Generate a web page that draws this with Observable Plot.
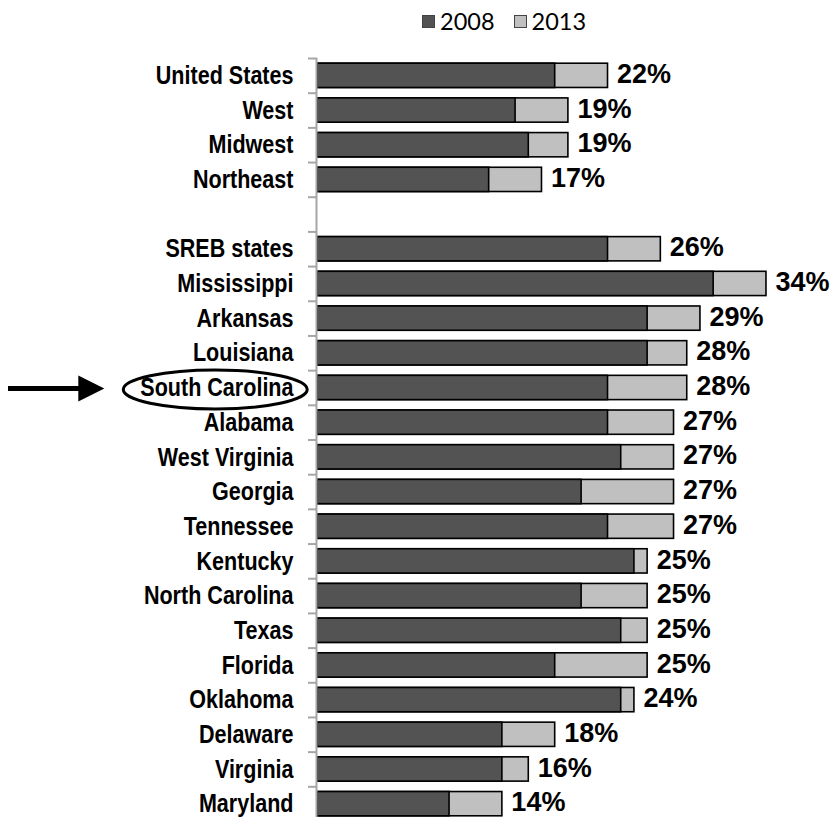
<!DOCTYPE html>
<html><head><meta charset="utf-8">
<script src="https://cdn.jsdelivr.net/npm/d3@7"></script>
<script src="https://cdn.jsdelivr.net/npm/@observablehq/plot@0.6"></script>
<style>
body{margin:0;background:#fff;width:832px;overflow:hidden}
#legend{height:42px;position:relative;font-family:Lato,"Open Sans",sans-serif;font-size:23.5px;color:#000}
#legend .row{position:absolute;left:422px;top:10px;height:22px;display:flex;align-items:center}
#legend .item{display:flex;align-items:center;margin-right:19px}
#legend .sw{width:13px;height:13px;border:1px solid #444;margin-right:5px;box-sizing:border-box}
#chart svg{display:block}
</style></head><body>
<div id="legend"><div class="row"></div></div>
<div id="chart"></div>
<script>
// Data
const regions = ["United States", "West", "Midwest", "Northeast"];
const regions2008 = [18, 15, 16, 13];
const regions2013 = [22, 19, 19, 17];

const states = ["SREB states", "Mississippi", "Arkansas", "Louisiana", "South Carolina", "Alabama",
  "West Virginia", "Georgia", "Tennessee", "Kentucky", "North Carolina", "Texas", "Florida",
  "Oklahoma", "Delaware", "Virginia", "Maryland"];
const states2008 = [22, 30, 25, 25, 22, 22, 23, 20, 22, 24, 20, 23, 18, 23, 14, 14, 10];
const states2013 = [26, 34, 29, 28, 28, 27, 27, 27, 27, 25, 25, 25, 25, 24, 18, 16, 14];

const seriesNames = ["2008", "2013"];
const seriesColors = ["#535353", "#c0c0c0"];
const highlighted = "South Carolina";

const spacer = " ";
const rows = [
  ...regions.map((name, i) => ({name, v2008: regions2008[i], v2013: regions2013[i]})),
  ...states.map((name, i) => ({name, v2008: states2008[i], v2013: states2013[i]}))
];
const domain = [...regions, spacer, ...states];

// Legend
const lrow = document.querySelector("#legend .row");
seriesNames.forEach((s, i) => {
  const it = document.createElement("div");
  it.className = "item";
  const sw = document.createElement("span");
  sw.className = "sw";
  sw.style.background = seriesColors[i];
  it.appendChild(sw);
  it.appendChild(document.createTextNode(s));
  lrow.appendChild(it);
});

const H = 790, MT = 16, MB = 11;
const step = (H - MT - MB) / domain.length;

const chart = Plot.plot({
  width: 832,
  height: H,
  marginTop: MT,
  marginBottom: MB,
  marginLeft: 317,
  marginRight: 0,
  x: {domain: [0, 39], axis: null},
  y: {domain, axis: null, paddingInner: 0.3, paddingOuter: 0.15, round: false},
  style: {background: "white", overflow: "visible"},
  marks: [
    Plot.ruleY(domain, {y: d => d, x1: 0, x2: 0, insetLeft: -9, dy: -step / 2, stroke: "#a6a6a6", strokeWidth: 2}),
    Plot.barX(rows, {x: "v2013", y: "name", fill: seriesColors[1], stroke: "black", strokeWidth: 1.6}),
    Plot.barX(rows, {x: "v2008", y: "name", fill: seriesColors[0], stroke: "black", strokeWidth: 1.6}),
    Plot.ruleX([0], {dx: -1, stroke: "#a6a6a6", strokeWidth: 2}),
    Plot.text(rows, {x: 0, y: "name", text: "name", dx: -24, textAnchor: "end",
      fontFamily: "'Liberation Sans', Arial, sans-serif", fontWeight: "bold", fontSize: 25.5, fill: "black"}),
    Plot.text(rows, {x: "v2013", y: "name", text: d => d.v2013 + "%", dx: 9, dy: -1.5, textAnchor: "start",
      fontFamily: "'Liberation Sans', Arial, sans-serif", fontWeight: "bold", fontSize: 27, fill: "black"})
  ]
});
document.getElementById("chart").appendChild(chart);

// Narrow (condensed) look for the category labels
const catTexts = Array.from(chart.querySelectorAll("text")).filter(t => domain.includes(t.textContent));
catTexts.forEach(t => {
  const w = t.getComputedTextLength();
  t.setAttribute("textLength", (w * 0.845).toFixed(1));
  t.setAttribute("lengthAdjust", "spacingAndGlyphs");
});

// Annotation: ellipse around highlighted label and arrow
const svg = d3.select(chart);
const label = catTexts.find(t => t.textContent === highlighted);
if (label) {
  const sr = chart.getBoundingClientRect();
  const lr = label.getBoundingClientRect();
  const cx = (lr.left + lr.right) / 2 - sr.left - 2;
  const cy = chart.scale("y").apply(highlighted) + chart.scale("y").bandwidth / 2 + 2;
  const rx = (lr.right - lr.left) / 2 + 15, ry = 19.5;
  svg.append("ellipse").attr("cx", cx).attr("cy", cy).attr("rx", rx).attr("ry", ry)
    .attr("fill", "none").attr("stroke", "black").attr("stroke-width", 3);
  const tip = cx - rx - 19, y0 = cy - 1;
  svg.append("line").attr("x1", 8).attr("x2", tip - 22).attr("y1", y0).attr("y2", y0)
    .attr("stroke", "black").attr("stroke-width", 5);
  svg.append("path").attr("d", `M${tip},${y0} L${tip - 26},${y0 - 13} L${tip - 26},${y0 + 13} Z`).attr("fill", "black");
}
</script>
</body></html>
